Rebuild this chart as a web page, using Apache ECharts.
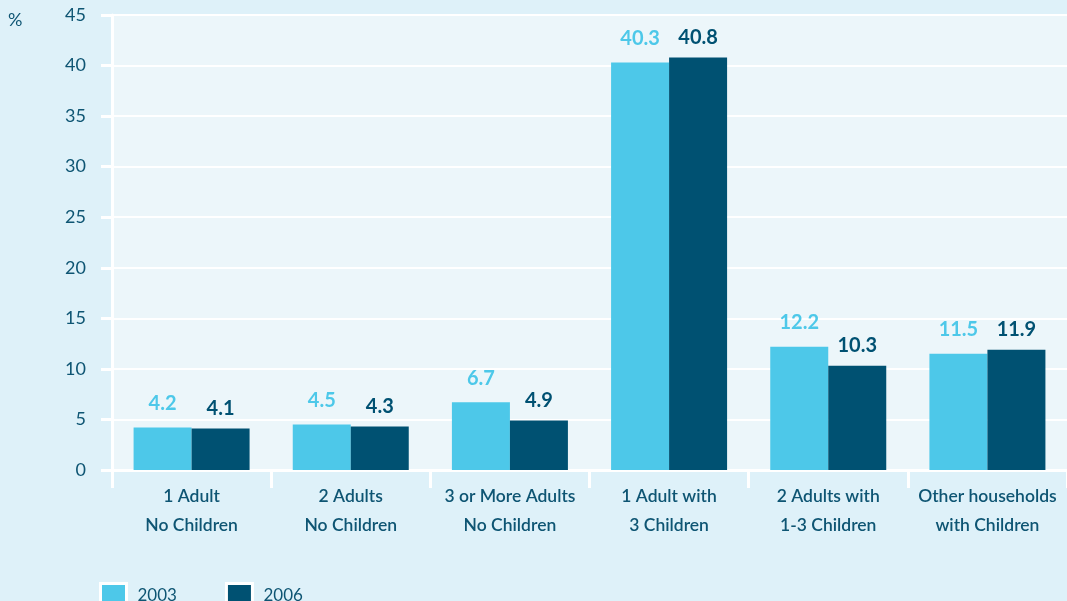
<!DOCTYPE html>
<html>
<head>
<meta charset="utf-8">
<script src="https://cdn.jsdelivr.net/npm/echarts@6/dist/echarts.min.js"></script>
<style>
  html, body { margin: 0; padding: 0; background: #def1f9; }
  #chart { width: 1067px; height: 601px; }
</style>
</head>
<body>
<div id="chart"></div>
<script>
var categories = ['1 Adult\nNo Children', '2 Adults\nNo Children', '3 or More Adults\nNo Children',
  '1 Adult with\n3 Children', '2 Adults with\n1-3 Children', 'Other households\nwith Children']
var values2003 = [4.2, 4.5, 6.7, 40.3, 12.2, 11.5]
var values2006 = [4.1, 4.3, 4.9, 40.8, 10.3, 11.9]

var light = '#4dc8e9'
var dark = '#005172'
var textColor = '#0e5573'
var font = 'Lato'

var myChart = echarts.init(document.getElementById('chart'))
var legendItem = { borderColor: '#ffffff', borderWidth: 3 }
var option = {
  backgroundColor: '#def1f9',
  textStyle: { fontFamily: font },
  grid: {
    left: 112, width: 962, top: 15, bottom: 131,
    show: true, backgroundColor: '#ecf6fa', borderWidth: 0
  },
  legend: {
    left: 94, top: 577,
    itemWidth: 26, itemHeight: 24, itemGap: 48,
    icon: 'rect',
    textStyle: { color: textColor, fontSize: 17, fontFamily: font, padding: [6, 0, 0, 6] },
    data: [
      { name: '2003', itemStyle: legendItem },
      { name: '2006', itemStyle: legendItem }
    ]
  },
  xAxis: {
    type: 'category',
    data: categories,
    axisLine: { lineStyle: { color: '#ffffff', width: 3 } },
    axisTick: { show: true, length: 18, lineStyle: { color: '#ffffff', width: 3 } },
    axisLabel: {
      color: textColor, fontSize: 17.5, fontWeight: 600, fontFamily: font,
      lineHeight: 29, margin: 12, interval: 0
    }
  },
  yAxis: {
    type: 'value',
    min: 0, max: 45, interval: 5,
    name: '%',
    nameLocation: 'end',
    nameGap: 0,
    nameTextStyle: { color: textColor, fontSize: 18, fontFamily: font, align: 'left', padding: [0, 0, -14, -104] },
    axisLine: { show: true, lineStyle: { color: '#ffffff', width: 3 } },
    axisTick: { show: true, length: 11, lineStyle: { color: '#ffffff', width: 3 } },
    axisLabel: { color: textColor, fontSize: 18, fontFamily: font, margin: 26 },
    splitLine: { lineStyle: { color: '#ffffff', width: 2 } }
  },
  series: [
    {
      name: '2003', type: 'bar', data: values2003,
      barWidth: 58, barGap: '0%',
      itemStyle: { color: light },
      label: { show: true, position: 'top', distance: 14, color: light, fontSize: 20, fontWeight: 'bold', fontFamily: font }
    },
    {
      name: '2006', type: 'bar', data: values2006,
      barWidth: 58,
      itemStyle: { color: dark },
      label: { show: true, position: 'top', distance: 10, color: dark, fontSize: 20, fontWeight: 'bold', fontFamily: font }
    }
  ]
}
myChart.setOption(option)
</script>
</body>
</html>
